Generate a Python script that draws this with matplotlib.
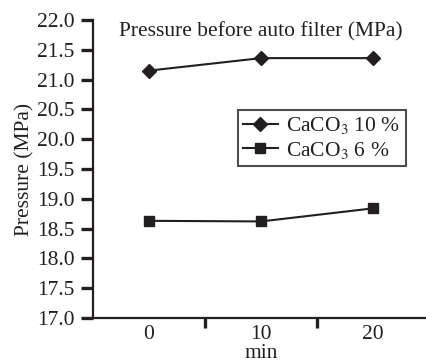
import numpy as np
import matplotlib.pyplot as plt

plt.rcParams['font.family'] = ['Liberation Serif', 'DejaVu Serif']
plt.rcParams['mathtext.fontset'] = 'stix'

minutes = ['0', '10', '20']
caco3_10 = [21.15, 21.36, 21.36]
caco3_6 = [18.63, 18.62, 18.84]
yticks = np.arange(17.0, 22.01, 0.5)

col = '#231f20'
fs = 15.5
fig = plt.figure(figsize=(4.26, 3.63), dpi=100)
ax = fig.add_axes([0.218, 0.124, 0.782, 0.821])

x = np.arange(len(minutes))
ax.plot(x, caco3_10, color=col, lw=1.5, marker='D', ms=7, label=r'CaCO$_3$ 10 %')
ax.plot(x, caco3_6, color=col, lw=1.5, marker='s', ms=7, label=r'CaCO$_3$ 6 %')

ax.set_xlim(-0.5, 2.47)
ax.set_ylim(17.0, 22.0)
ax.set_yticks(yticks)
ax.set_yticklabels([f'{v:.1f}' for v in yticks])
ax.set_xticks([0.5, 1.5])
ax.set_xticklabels([])
for i, m in enumerate(minutes):
    ax.text(i, -0.055, m, transform=ax.get_xaxis_transform(), ha='center', va='center', fontsize=fs, color=col)

for s in ['top', 'right']:
    ax.spines[s].set_visible(False)
for s in ['left', 'bottom']:
    ax.spines[s].set_linewidth(1.6)
    ax.spines[s].set_color(col)
ax.tick_params(axis='y', direction='out', length=9, width=2.4, labelsize=fs, colors=col, pad=4)
ax.tick_params(axis='x', direction='out', length=7, width=2.4, colors=col)

fig.text(0.613, 1 - 354 / 363, 'min', ha='center', va='center', fontsize=fs, color=col)
ax.set_ylabel('Pressure (MPa)', fontsize=fs, color=col, labelpad=2)
ax.text(0.505, 0.962, 'Pressure before auto filter (MPa)', transform=ax.transAxes,
        ha='center', va='center', fontsize=fs, color=col)

leg = ax.legend(loc='upper left', bbox_to_anchor=(0.435, 0.698), fontsize=fs, frameon=True,
                fancybox=False, edgecolor=col, handlelength=1.6, handletextpad=0.4,
                borderpad=0.25, labelspacing=0.15, borderaxespad=0)
leg.get_frame().set_linewidth(1.5)
for t in leg.get_texts():
    t.set_color(col)

plt.savefig('out.png', dpi=100)
